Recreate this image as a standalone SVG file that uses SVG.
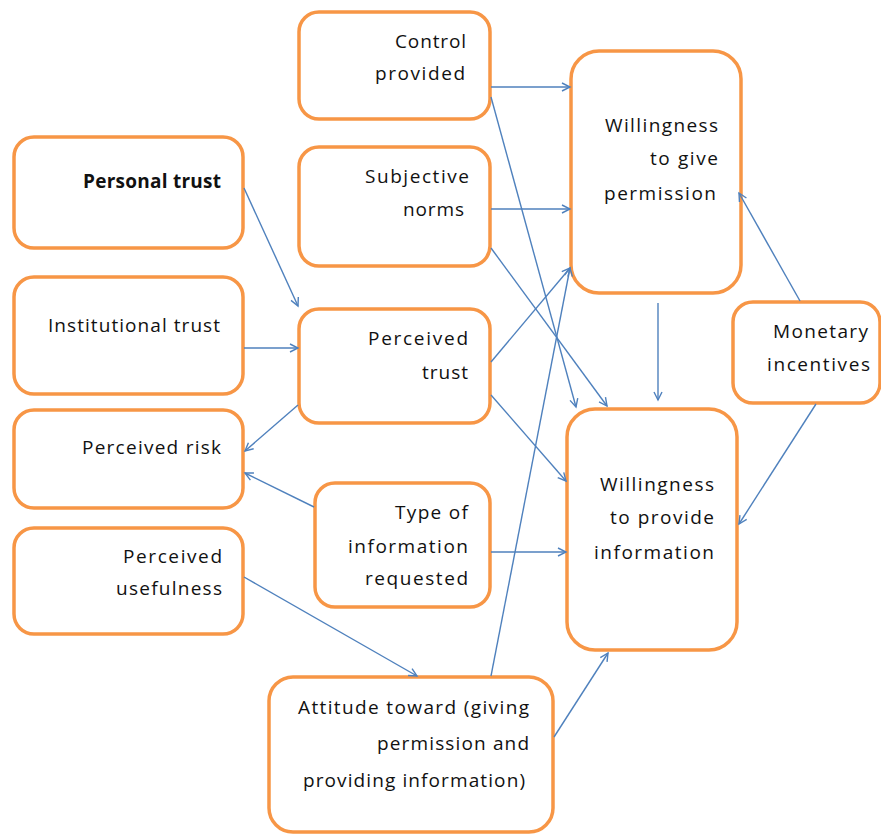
<svg xmlns="http://www.w3.org/2000/svg" width="881" height="834" viewBox="0 0 881 834">
<style>
.box{fill:#fff;stroke:#F79646;stroke-width:3.5}
.t{font-family:"Open Sans","Liberation Sans",sans-serif;font-size:19px;fill:#111;text-anchor:end}
.b{font-weight:bold}
.c{stroke:#4F81BD;stroke-width:1.4;fill:none;marker-end:url(#ah)}
</style>
<defs>
<marker id="ah" markerUnits="userSpaceOnUse" markerWidth="12" markerHeight="12" refX="9" refY="5" orient="auto">
<path d="M1,1 L9,5 L1,9" fill="none" stroke="#4F81BD" stroke-width="1.4"/>
</marker>
</defs>
<rect width="881" height="834" fill="#fff"/>
<g id="personal-trust">
<rect class="box" x="14" y="137" width="229" height="111" rx="20"/>
<text class="t b" x="221" y="188" textLength="138">Personal trust</text>
</g>
<g id="institutional-trust">
<rect class="box" x="14" y="277" width="229" height="117" rx="20"/>
<text class="t" x="220" y="332" textLength="172">Institutional trust</text>
</g>
<g id="perceived-risk">
<rect class="box" x="14" y="410" width="229" height="98" rx="20"/>
<text class="t" x="221" y="454" textLength="139">Perceived risk</text>
</g>
<g id="perceived-usefulness">
<rect class="box" x="14" y="528" width="229" height="106" rx="20"/>
<text class="t" x="222" y="563" textLength="99">Perceived</text>
<text class="t" x="222" y="595" textLength="106">usefulness</text>
</g>
<g id="control-provided">
<rect class="box" x="299" y="12" width="191" height="107" rx="20"/>
<text class="t" x="466" y="48" textLength="71">Control</text>
<text class="t" x="465" y="80" textLength="90">provided</text>
</g>
<g id="subjective-norms">
<rect class="box" x="299" y="147" width="191" height="119" rx="20"/>
<text class="t" x="469" y="183" textLength="104">Subjective</text>
<text class="t" x="464" y="216" textLength="61">norms</text>
</g>
<g id="perceived-trust">
<rect class="box" x="299" y="309" width="191" height="114" rx="20"/>
<text class="t" x="468" y="345" textLength="100">Perceived</text>
<text class="t" x="468" y="379" textLength="46">trust</text>
</g>
<g id="type-of-information">
<rect class="box" x="315" y="483" width="175" height="124" rx="20"/>
<text class="t" x="468" y="519" textLength="73">Type of</text>
<text class="t" x="468" y="553" textLength="120">information</text>
<text class="t" x="468" y="585" textLength="103">requested</text>
</g>
<g id="attitude-toward">
<rect class="box" x="269" y="677" width="284" height="155" rx="24"/>
<text class="t" x="529" y="714" textLength="231">Attitude toward (giving</text>
<text class="t" x="529" y="750" textLength="152">permission and</text>
<text class="t" x="525" y="787" textLength="222">providing information)</text>
</g>
<g id="willingness-give-permission">
<rect class="box" x="571" y="51" width="170" height="242" rx="28"/>
<text class="t" x="718" y="132" textLength="113">Willingness</text>
<text class="t" x="718" y="165" textLength="68">to give</text>
<text class="t" x="716" y="200" textLength="112">permission</text>
</g>
<g id="willingness-provide-information">
<rect class="box" x="567" y="409" width="170" height="241" rx="28"/>
<text class="t" x="714" y="491" textLength="114">Willingness</text>
<text class="t" x="714" y="524" textLength="104">to provide</text>
<text class="t" x="714" y="559" textLength="120">information</text>
</g>
<g id="monetary-incentives">
<rect class="box" x="733" y="302" width="147" height="101" rx="20"/>
<text class="t" x="868" y="338" textLength="95">Monetary</text>
<text class="t" x="870" y="371" textLength="103">incentives</text>
</g>
<g id="connectors">
<line class="c" x1="491" y1="87" x2="570" y2="87"/>
<line class="c" x1="491" y1="97" x2="576" y2="407"/>
<line class="c" x1="491" y1="209" x2="570" y2="209"/>
<line class="c" x1="491" y1="248" x2="607" y2="406"/>
<line class="c" x1="244" y1="188" x2="298" y2="306"/>
<line class="c" x1="244" y1="348" x2="298" y2="348"/>
<line class="c" x1="298" y1="405" x2="245" y2="451"/>
<line class="c" x1="314" y1="507" x2="245" y2="473"/>
<line class="c" x1="491" y1="362" x2="570" y2="268"/>
<line class="c" x1="491" y1="395" x2="566" y2="481"/>
<line class="c" x1="491" y1="552" x2="566" y2="552"/>
<line class="c" x1="491" y1="676" x2="570" y2="268"/>
<line class="c" x1="554" y1="737" x2="608" y2="653"/>
<line class="c" x1="244" y1="577" x2="417" y2="676"/>
<line class="c" x1="658" y1="303" x2="658" y2="400"/>
<line class="c" x1="800" y1="301" x2="739" y2="193"/>
<line class="c" x1="816" y1="404" x2="739" y2="524"/>
</g>
</svg>
